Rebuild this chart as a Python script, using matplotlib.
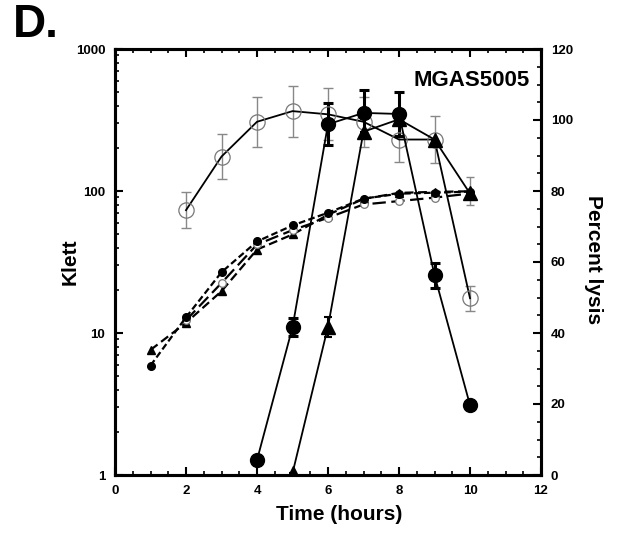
import matplotlib
matplotlib.use("Agg")
import matplotlib.pyplot as plt
import numpy as np
from matplotlib.ticker import FixedLocator, MultipleLocator, LogLocator, NullFormatter, FixedFormatter

plt.rcParams['font.family'] = ['Liberation Sans', 'DejaVu Sans']
plt.rcParams['font.weight'] = 'bold'

# ---- Klett (growth, left log axis, dashed) ----
hours_klett = [1, 2, 3, 4, 5, 6, 7, 8, 9, 10]
klett_filled_circle = [5.9, 12.9, 26.8, 44.1, 57.2, 70.3, 88.3, 95.7, 97.3, 99]
klett_triangle = [7.6, 11.8, 19.7, 38.7, 49.4, 68, 88, 97, 98.6, 99.5]
hours_klett_open = [2, 3, 4, 5, 6, 7, 8, 9, 10]
klett_open_circle = [12.3, 22.5, 42, 53, 64.8, 80.4, 84.9, 89.8, 96]
klett_open_err_hours = [10]
klett_open_err_low = [96 - 80]
klett_open_err_high = [125 - 96]

# ---- Percent lysis (right linear axis, solid) ----
hours_lysis_open = [2, 3, 4, 5, 6, 7, 8, 9, 10]
lysis_open = [74.6, 89.7, 99.5, 102.5, 101.6, 99.5, 94.5, 94.5, 49.8]
lysis_open_err = [5.1, 6.3, 7.0, 7.2, 7.3, 7.0, 6.3, 6.5, 3.5]

hours_lysis_filled = [4, 5, 6, 7, 8, 9, 10]
lysis_filled = [4.2, 41.6, 98.8, 102.0, 101.7, 56.3, 19.7]
lysis_filled_err = [0, 2.5, 5.9, 6.4, 6.1, 3.5, 0]

hours_lysis_tri = [5, 6, 7, 8, 9, 10]
lysis_tri = [0.5, 41.8, 96.7, 100.2, 94.5, 79.3]
lysis_tri_err = [0, 2.8, 0, 0, 0, 0]

x_ticks = [0, 2, 4, 6, 8, 10, 12]
left_ticks = [1, 10, 100, 1000]
left_tick_labels = ['1', '10', '100', '1000']
right_ticks = [0, 20, 40, 60, 80, 100, 120]

fig = plt.figure(figsize=(6.18, 5.34), dpi=100)
ax = fig.add_axes([115/618, 1-475/534, (541-115)/618, (475-49)/534])
ax2 = ax.twinx()

# left axis: Klett
ax.set_yscale('log')
ax.set_xlim(0, 12)
ax.set_ylim(1, 1000)

ax.plot(hours_klett, klett_triangle, linestyle=(0, (4, 2)), color='black', lw=1.6,
        marker='^', markersize=5.5, markerfacecolor='black', markeredgecolor='black', zorder=3)
ax.plot(hours_klett_open, klett_open_circle, linestyle=(0, (6, 2.5)), color='black', lw=1.6,
        marker='o', markersize=5.5, markerfacecolor='white', markeredgecolor='#777777',
        markeredgewidth=0.9, zorder=3)
ax.errorbar(klett_open_err_hours, [klett_open_circle[-1]],
            yerr=[klett_open_err_low, klett_open_err_high], fmt='none',
            ecolor='#888888', elinewidth=1.0, capsize=3, capthick=1.0, zorder=2)
ax.plot(hours_klett, klett_filled_circle, linestyle=(0, (3, 1.5)), color='black', lw=1.6,
        marker='o', markersize=5.5, markerfacecolor='black', markeredgecolor='black', zorder=3)

# right axis: percent lysis
ax2.set_ylim(0, 120)
ax2.errorbar(hours_lysis_open, lysis_open, yerr=lysis_open_err, fmt='none',
             ecolor='#888888', elinewidth=1.0, capsize=3.5, capthick=1.0, zorder=2)
ax2.plot(hours_lysis_open, lysis_open, color='black', lw=1.3, marker='o', markersize=11,
         markerfacecolor='none', markeredgecolor='#777777', markeredgewidth=0.9, zorder=3)
ax2.errorbar(hours_lysis_filled, lysis_filled, yerr=lysis_filled_err, fmt='none',
             ecolor='black', elinewidth=2.2, capsize=3.5, capthick=2.2, zorder=2)
ax2.plot(hours_lysis_filled, lysis_filled, color='black', lw=1.3, marker='o', markersize=10,
         markerfacecolor='black', markeredgecolor='black', zorder=4)
ax2.errorbar(hours_lysis_tri, lysis_tri, yerr=lysis_tri_err, fmt='none',
             ecolor='black', elinewidth=1.5, capsize=3, capthick=1.5, zorder=2)
ax2.plot(hours_lysis_tri, lysis_tri, color='black', lw=1.3, marker='^', markersize=10.5,
         markerfacecolor='black', markeredgecolor='black', zorder=4)

# ticks
ax.xaxis.set_major_locator(FixedLocator(x_ticks))
ax.xaxis.set_minor_locator(MultipleLocator(0.5))
ax.set_xticklabels([str(t) for t in x_ticks])
ax.yaxis.set_major_locator(FixedLocator(left_ticks))
ax.yaxis.set_major_formatter(FixedFormatter(left_tick_labels))
ax.yaxis.set_minor_locator(LogLocator(base=10, subs=np.arange(2, 10)))
ax.yaxis.set_minor_formatter(NullFormatter())
ax2.yaxis.set_major_locator(FixedLocator(right_ticks))
ax2.yaxis.set_minor_locator(MultipleLocator(5))

ax.tick_params(axis='both', which='major', direction='in', length=5.5, width=1.5,
               labelsize=9.5, pad=7, top=True, right=False)
ax.tick_params(axis='both', which='minor', direction='in', length=3, width=1.2,
               top=True, right=False)
ax2.tick_params(axis='y', which='major', direction='in', length=5.5, width=1.5,
                labelsize=9.5, pad=7)
ax2.tick_params(axis='y', which='minor', direction='in', length=3, width=1.2)
for a in (ax, ax2):
    for lab in a.get_xticklabels() + a.get_yticklabels():
        lab.set_fontweight('bold')
    for s in a.spines.values():
        s.set_linewidth(2.2)

fig.text(339/618, 1-515/534, 'Time (hours)', ha='center', va='center',
         fontsize=15, fontweight='bold')
fig.text(70/618, 1-262/534, 'Klett', ha='center', va='center', rotation=90,
         fontsize=15, fontweight='bold')
fig.text(593/618, 1-260/534, 'Percent lysis', ha='center', va='center', rotation=270,
         fontsize=15, fontweight='bold')

ax.text((530-115)/426, (475-80)/426, 'MGAS5005', transform=ax.transAxes, ha='right',
        va='center', fontsize=16, fontweight='bold')
fig.text(13/618, 1-25/534, 'D.', ha='left', va='center', fontsize=33, fontweight='bold')

fig.savefig('out.png', dpi=100)
